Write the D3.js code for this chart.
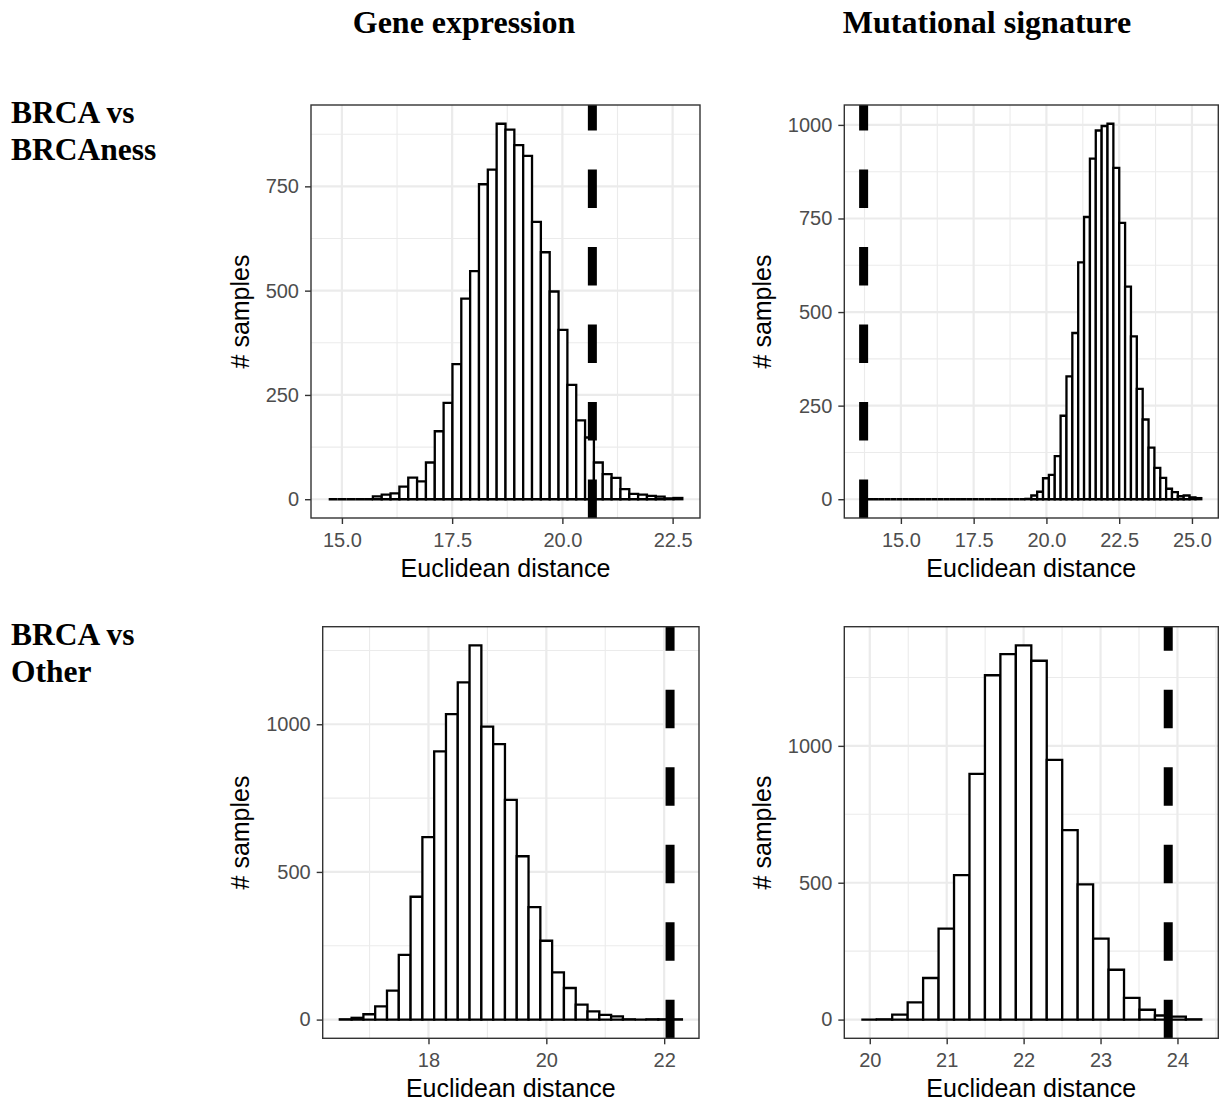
<!DOCTYPE html>
<html>
<head>
<meta charset="utf-8">
<script src="https://cdn.jsdelivr.net/npm/d3@7"></script>
<style>
  body { margin: 0; background: #fff; }
  svg { display: block; }
</style>
</head>
<body>
<svg id="fig" width="1219" height="1101"></svg>
<script>
// values
const colTitles = ["Gene expression", "Mutational signature"];
const rowTitles = [["BRCA vs", "BRCAness"], ["BRCA vs", "Other"]];

// histogram counts per bin (left to right)
const geneBrcaness = [0, 0, 0, 0, 0, 7, 11, 14, 30, 52, 43, 88, 163, 231, 324, 481, 547, 755, 790, 900,
  886, 849, 823, 665, 592, 498, 406, 274, 189, 148, 88, 60, 51, 24, 13, 11, 8, 6, 2, 3];
const mutBrcaness = [0, 0, 0, 0, 0, 0, 0, 0, 0, 0, 0, 0, 0, 0, 0, 0, 0, 0, 0, 0,
  0, 0, 0, 0, 0, 0, 0, 0, 1, 10, 20, 56, 65, 115, 223, 328, 444, 633, 754, 910,
  985, 997, 1003, 885, 738, 568, 435, 295, 213, 138, 84, 57, 28, 19, 8, 10, 5, 3];
const geneOther = [1, 6, 18, 45, 98, 219, 416, 618, 908, 1034, 1142, 1267, 992, 933, 744, 553, 381, 267, 160, 107,
  51, 28, 16, 11, 1, 0, 1, 1, 1];
const mutOther = [0, 1, 18, 63, 152, 332, 528, 898, 1258, 1335, 1367, 1311, 949, 692, 494, 296, 182, 79, 36, 15, 11, 1];

// first bin edge and bin width
const binStarts = [14.70, 13.64, 16.495, 19.89];
const binWidths = [0.2005, 0.2014, 0.2002, 0.2009];

// observed distance (dashed line)
const observed = [20.68, 13.72, 22.10, 23.88];

// axis ticks
const xTicksGene1 = [15.0, 17.5, 20.0, 22.5];
const xTicksMut1 = [15.0, 17.5, 20.0, 22.5, 25.0];
const xTicksGene2 = [18, 20, 22];
const xTicksMut2 = [20, 21, 22, 23, 24];
const yTicks1a = [0, 250, 500, 750];
const yTicks1b = [0, 250, 500, 750, 1000];
const yTicks2 = [0, 500, 1000];

const svg = d3.select("#fig");

const panels = [
  { counts: geneBrcaness, xt: xTicksGene1, yt: yTicks1a, fmt: d3.format(".1f"), box: [311, 700, 105, 518] },
  { counts: mutBrcaness, xt: xTicksMut1, yt: yTicks1b, fmt: d3.format(".1f"), box: [844.3, 1218.3, 105, 518] },
  { counts: geneOther, xt: xTicksGene2, yt: yTicks2, fmt: d3.format("d"), box: [322.7, 699, 626.7, 1038.3] },
  { counts: mutOther, xt: xTicksMut2, yt: yTicks2, fmt: d3.format("d"), box: [844.3, 1218.3, 626.7, 1038.3] }
];

const gridCol = "#ebebeb", inkCol = "#333333", labCol = "#4d4d4d";
const sans = "'Liberation Sans', Arial, Helvetica, sans-serif";
const serif = "'Liberation Serif', 'Times New Roman', serif";

function minorTicks(ticks, dom) {
  const step = ticks[1] - ticks[0];
  const out = [];
  for (let t = ticks[0] - step; t <= ticks[ticks.length - 1] + step; t += step) {
    const m = t + step / 2;
    if (m > dom[0] && m < dom[1]) out.push(m);
  }
  return out;
}

panels.forEach((p, i) => {
  const [x0, x1, y0, y1] = p.box;
  const start = binStarts[i], bw = binWidths[i];
  const bins = p.counts.map((c, k) => ({ a: start + k * bw, b: start + (k + 1) * bw, c }));
  const end = start + p.counts.length * bw;

  // ggplot style 5% expansion
  const lo = Math.min(start, observed[i]), hi = Math.max(end, observed[i]);
  const padX = (hi - lo) * 0.05;
  const ymax = d3.max(p.counts);
  const x = d3.scaleLinear().domain([lo - padX, hi + padX]).range([x0, x1]);
  const y = d3.scaleLinear().domain([-ymax * 0.05, ymax * 1.05]).range([y1, y0]);

  const g = svg.append("g");

  // grid
  const xd = x.domain(), yd = y.domain();
  g.selectAll(".gxm").data(minorTicks(p.xt, xd)).join("line")
    .attr("x1", d => x(d)).attr("x2", d => x(d)).attr("y1", y0).attr("y2", y1)
    .attr("stroke", gridCol).attr("stroke-width", 1.1);
  g.selectAll(".gym").data(minorTicks(p.yt, yd)).join("line")
    .attr("y1", d => y(d)).attr("y2", d => y(d)).attr("x1", x0).attr("x2", x1)
    .attr("stroke", gridCol).attr("stroke-width", 1.1);
  g.selectAll(".gx").data(p.xt).join("line")
    .attr("x1", d => x(d)).attr("x2", d => x(d)).attr("y1", y0).attr("y2", y1)
    .attr("stroke", gridCol).attr("stroke-width", 2.2);
  g.selectAll(".gy").data(p.yt).join("line")
    .attr("y1", d => y(d)).attr("y2", d => y(d)).attr("x1", x0).attr("x2", x1)
    .attr("stroke", gridCol).attr("stroke-width", 2.2);

  // bars (paths so empty bins still draw the base line)
  g.selectAll(".bar").data(bins).join("path")
    .attr("d", d => `M${x(d.a)},${y(0)}V${y(d.c)}H${x(d.b)}V${y(0)}Z`)
    .attr("fill", "#fff").attr("stroke", "#000").attr("stroke-width", 2.3);

  // observed value
  g.append("line")
    .attr("x1", x(observed[i])).attr("x2", x(observed[i]))
    .attr("y1", y1).attr("y2", y0)
    .attr("stroke", "#000").attr("stroke-width", 9)
    .attr("stroke-dasharray", "38.5,39");

  // border
  g.append("rect").attr("x", x0).attr("y", y0).attr("width", x1 - x0).attr("height", y1 - y0)
    .attr("fill", "none").attr("stroke", inkCol).attr("stroke-width", 1.4);

  // axes
  const xa = g.append("g").attr("transform", `translate(0,${y1})`)
    .call(d3.axisBottom(x).tickValues(p.xt).tickFormat(p.fmt).tickSizeInner(6).tickSizeOuter(0).tickPadding(8.5));
  const ya = g.append("g").attr("transform", `translate(${x0},0)`)
    .call(d3.axisLeft(y).tickValues(p.yt).tickFormat(d3.format("d")).tickSizeInner(6).tickSizeOuter(0).tickPadding(6));
  [xa, ya].forEach(a => {
    a.select(".domain").remove();
    a.selectAll("line").attr("stroke", inkCol).attr("stroke-width", 1.4);
    a.selectAll("text").attr("fill", labCol).style("font-family", sans).style("font-size", "20px");
  });

  g.append("text")
    .attr("x", (x0 + x1) / 2).attr("y", y1 + 59)
    .attr("text-anchor", "middle")
    .style("font-family", sans).style("font-size", "25px").attr("fill", "#000")
    .text("Euclidean distance");

  const ax = i % 2 === 0 ? 248.5 : 770.5;
  g.append("text")
    .attr("transform", `translate(${ax},${(y0 + y1) / 2}) rotate(-90)`)
    .attr("text-anchor", "middle")
    .style("font-family", sans).style("font-size", "25px").attr("fill", "#000")
    .text("# samples");
});

// column and row headers
svg.selectAll(".col").data(colTitles).join("text")
  .attr("x", (d, i) => [464, 987][i]).attr("y", 33)
  .attr("text-anchor", "middle")
  .style("font-family", serif).style("font-weight", "bold").style("font-size", "32px")
  .text(d => d);

rowTitles.forEach((lines, r) => {
  svg.append("text")
    .attr("x", 11).attr("y", [123, 645][r])
    .style("font-family", serif).style("font-weight", "bold").style("font-size", "31.5px")
    .selectAll("tspan").data(lines).join("tspan")
    .attr("x", 11).attr("dy", (d, j) => j ? 36.7 : 0)
    .text(d => d);
});
</script>
</body>
</html>
